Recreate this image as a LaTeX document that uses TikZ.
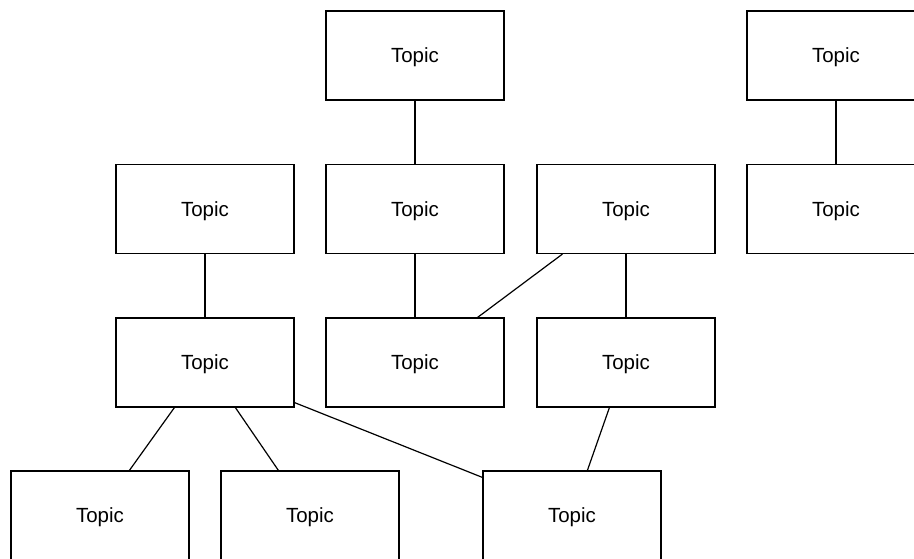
\documentclass[tikz,border=0pt]{standalone}
\usepackage{fontspec}
\setmainfont{Liberation Sans}
\begin{document}
\begin{tikzpicture}[x=1pt,y=-1pt,
  topic/.style={draw=black,line width=1.2pt,minimum width=178pt,minimum height=89pt,inner sep=0pt,font=\fontsize{20.5}{23}\selectfont,text height=14.7pt,text depth=0pt,fill=white},
  link/.style={draw=black,line width=1.2pt}]
\useasboundingbox (0,0) rectangle (914,558);
\clip (0,0) rectangle (914,558);
\fill[white] (0,0) rectangle (914,558);
\node[topic] (A) at (415,55.5) {Topic};
\node[topic] (B) at (836,55.5) {Topic};
\node[topic] (C) at (205,209) {Topic};
\node[topic] (D) at (415,209) {Topic};
\node[topic] (E) at (626,209) {Topic};
\node[topic] (F) at (836,209) {Topic};
\node[topic] (G) at (205,362.5) {Topic};
\node[topic] (H) at (415,362.5) {Topic};
\node[topic] (I) at (626,362.5) {Topic};
\node[topic] (J) at (100,515.5) {Topic};
\node[topic] (K) at (310,515.5) {Topic};
\node[topic] (L) at (572,515.5) {Topic};
\draw[link] (A.south) -- (D.north);
\draw[link] (B.south) -- (F.north);
\draw[link] (C.south) -- (G.north);
\draw[link] (D.south) -- (H.north);
\draw[link] (E.south) -- (I.north);
\draw[link] ([xshift=26pt]E.south west) -- ([xshift=-27pt]H.north east);
\draw[link] ([xshift=59pt]G.south west) -- ([xshift=119pt]J.north west);
\draw[link] ([xshift=120pt]G.south west) -- ([xshift=58pt]K.north west);
\draw[link] ([yshift=5pt]G.south east) -- ([yshift=-7pt]L.north west);
\draw[link] ([xshift=73pt]I.south west) -- ([xshift=105pt]L.north west);
\end{tikzpicture}
\end{document}
